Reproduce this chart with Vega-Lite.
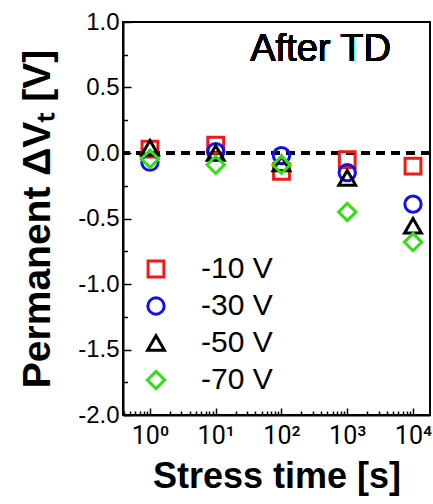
{
  "$schema": "https://vega.github.io/schema/vega-lite/v6.json",
  "width": 307,
  "height": 393,
  "autosize": "none",
  "padding": {"left": 123, "top": 22, "right": 3, "bottom": 89},
  "background": "white",
  "config": {"font": "Liberation Sans"},
  "view": {"stroke": "black", "strokeWidth": 2},
  "resolve": {"axis": {"x": "independent", "y": "independent"}},
  "data": {"values": [
    {"t": 1, "v": 0.03, "s": "-10 V"},
    {"t": 10, "v": 0.06, "s": "-10 V"},
    {"t": 100, "v": -0.14, "s": "-10 V"},
    {"t": 1000, "v": -0.05, "s": "-10 V"},
    {"t": 10000, "v": -0.10, "s": "-10 V"},
    {"t": 1, "v": -0.07, "s": "-30 V"},
    {"t": 10, "v": 0.01, "s": "-30 V"},
    {"t": 100, "v": -0.02, "s": "-30 V"},
    {"t": 1000, "v": -0.15, "s": "-30 V"},
    {"t": 10000, "v": -0.39, "s": "-30 V"},
    {"t": 1, "v": 0.04, "s": "-50 V"},
    {"t": 10, "v": 0.0, "s": "-50 V"},
    {"t": 100, "v": -0.08, "s": "-50 V"},
    {"t": 1000, "v": -0.19, "s": "-50 V"},
    {"t": 10000, "v": -0.555, "s": "-50 V"},
    {"t": 1, "v": -0.045, "s": "-70 V"},
    {"t": 10, "v": -0.09, "s": "-70 V"},
    {"t": 100, "v": -0.09, "s": "-70 V"},
    {"t": 1000, "v": -0.45, "s": "-70 V"},
    {"t": 10000, "v": -0.68, "s": "-70 V"}
  ]},
  "layer": [
    {
      "mark": {"type": "rule", "strokeDash": [9, 6], "strokeWidth": 2.5, "color": "black"},
      "encoding": {
        "y": {
          "datum": 0, "type": "quantitative",
          "axis": {
            "orient": "left",
            "values": [-1.75, -1.25, -0.75, -0.25, 0.25, 0.75],
            "labels": false, "domain": false, "grid": false, "title": null,
            "tickSize": -4.5, "tickColor": "black", "tickWidth": 1.5
          }
        }
      }
    },
    {
      "mark": {"type": "point", "filled": false, "strokeWidth": 3, "opacity": 1},
      "encoding": {
        "x": {
          "field": "t", "type": "quantitative",
          "scale": {"type": "log", "domain": [0.389, 18140], "nice": false},
          "axis": {
            "orient": "bottom",
            "values": [1, 10, 100, 1000, 10000],
            "labelExpr": "'10' + ['⁰','¹','²','³','⁴'][round(log(datum.value)/LN10)]",
            "tickSize": -7, "tickColor": "black", "tickWidth": 1.5,
            "domainColor": "black", "domainWidth": 2,
            "labelFont": "Roboto", "labelFontSize": 25, "labelColor": "black", "labelPadding": 15, "labelFlush": false,
            "labelOverlap": false, "grid": false,
            "title": "Stress time [s]", "titleFontSize": 36, "titleFontWeight": "bold", "titleColor": "black", "titlePadding": 11
          }
        },
        "y": {
          "field": "v", "type": "quantitative",
          "scale": {"domain": [-2, 1], "nice": false},
          "axis": {
            "orient": "left",
            "values": [-2, -1.5, -1, -0.5, 0, 0.5, 1],
            "labelExpr": "replace(format(datum.value, '.1f'), '−', '-')",
            "tickSize": -8, "tickColor": "black", "tickWidth": 1.5,
            "domainColor": "black", "domainWidth": 2,
            "labelFontSize": 24, "labelColor": "black", "labelPadding": 12, "labelFlush": false,
            "labelOverlap": false, "grid": false,
            "title": "Permanent ΔVₜ [V]", "titleFontSize": 39, "titleFontWeight": "bold", "titleColor": "black", "titlePadding": 20
          }
        },
        "color": {
          "field": "s", "type": "nominal",
          "scale": {"domain": ["-10 V", "-30 V", "-50 V", "-70 V"], "range": ["#f01818", "#1010f0", "#000000", "#30e010"]},
          "legend": {
            "orient": "none", "legendX": 18, "legendY": 232, "title": null,
            "labelFontSize": 30, "labelColor": "black", "labelOffset": 30, "rowPadding": 7,
            "symbolStrokeWidth": 3, "padding": 0
          }
        },
        "shape": {
          "field": "s", "type": "nominal",
          "scale": {"domain": ["-10 V", "-30 V", "-50 V", "-70 V"], "range": ["square", "circle", "triangle-up", "diamond"]}
        },
        "size": {
          "field": "s", "type": "nominal",
          "scale": {"domain": ["-10 V", "-30 V", "-50 V", "-70 V"], "range": [250, 300, 484, 576]}
        }
      }
    },
    {
      "mark": {"type": "text", "text": "After TD", "fontSize": 38, "align": "right", "baseline": "alphabetic", "color": "black", "font": "Liberation Sans"},
      "encoding": {
        "x": {
          "datum": 4624, "type": "quantitative",
          "axis": {
            "orient": "bottom",
            "values": [0.4,0.5,0.6,0.7,0.8,0.9,2,3,4,5,6,7,8,9,20,30,40,50,60,70,80,90,200,300,400,500,600,700,800,900,2000,3000,4000,5000,6000,7000,8000,9000],
            "labels": false, "domain": false, "grid": false, "title": null,
            "tickSize": -4, "tickColor": "black", "tickWidth": 1.5
          }
        },
        "y": {"datum": 0.70, "type": "quantitative", "axis": null}
      }
    }
  ]
}
